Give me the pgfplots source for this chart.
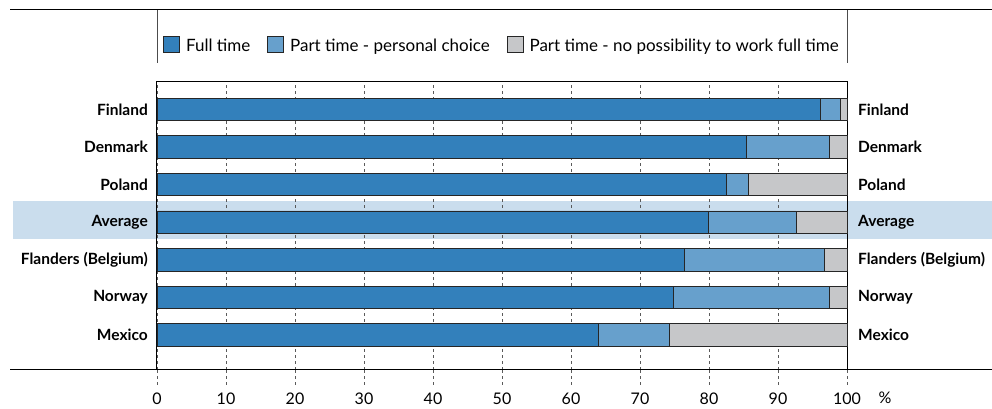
\documentclass[border=0pt]{standalone}
\usepackage{fontspec}
\setmainfont{Lato}
\usepackage{pgfplots}
\pgfplotsset{compat=1.18}
\definecolor{full}{RGB}{51,128,187}
\definecolor{pers}{RGB}{103,160,204}
\definecolor{nopos}{RGB}{198,199,201}
\definecolor{band}{RGB}{202,221,237}
\definecolor{gridc}{RGB}{90,90,90}
\tikzset{lbl/.style={inner sep=0pt, font=\fontsize{15.5}{18}\selectfont\bfseries}}
\begin{document}
\begin{tikzpicture}
\begin{axis}[
  scale only axis, width=690pt, height=287.5pt,
  xmin=0, xmax=100, ymin=-0.92, ymax=6.73,
  hide axis, clip=false,
]
\fill[band] (axis cs:-20.9,2.554) rectangle (axis cs:121,3.565);
\end{axis}
\begin{axis}[
  scale only axis, width=690pt, height=287.5pt,
  xbar stacked, bar width=22.5pt,
  xmin=0, xmax=100, ymin=-0.92, ymax=6.73,
  xtick={0,10,...,100}, ytick=\empty,
  xmajorgrids, grid style={dashed, gridc, line width=0.7pt},
  xtick pos=bottom, tick align=outside, major tick length=15pt,
  tick style={dashed, gridc, line width=0.7pt},
  /pgf/number format/assume math mode=true,
  xticklabel style={font=\fontsize{16}{19}\selectfont, yshift=-5pt},
  axis line style={line width=1pt, black},
  clip=false,
  legend columns=3,
  legend style={draw=none, fill=none, at={(0.5,1.127)}, anchor=center,
    font=\fontsize{17}{20}\selectfont,
    /tikz/every odd column/.append style={column sep=4pt},
    /tikz/every even column/.append style={column sep=15pt}},
  legend image code/.code={\draw[#1, line width=0.8pt] (0pt,-7pt) rectangle (16pt,9pt);},
]
\addplot[fill=full, draw=black!85, line width=0.7pt] coordinates {(64.0,0) (74.8,1) (76.4,2) (79.9,3) (82.5,4) (85.4,5) (96.2,6)};
\addplot[fill=pers, draw=black!85, line width=0.7pt] coordinates {(10.3,0) (22.7,1) (20.3,2) (12.7,3) (3.2,4) (12.0,5) (2.8,6)};
\addplot[fill=nopos, draw=black!85, line width=0.7pt] coordinates {(25.7,0) (2.5,1) (3.3,2) (7.4,3) (14.3,4) (2.6,5) (1.0,6)};
\legend{Full time, Part time - personal choice, Part time - no possibility to work full time}
\node[lbl, anchor=east] at ([xshift=-9pt]axis cs:0,0) {Mexico};
\node[lbl, anchor=east] at ([xshift=-9pt]axis cs:0,1) {Norway};
\node[lbl, anchor=east] at ([xshift=-9pt]axis cs:0,2) {Flanders (Belgium)};
\node[lbl, anchor=east] at ([xshift=-9pt]axis cs:0,3) {Average};
\node[lbl, anchor=east] at ([xshift=-9pt]axis cs:0,4) {Poland};
\node[lbl, anchor=east] at ([xshift=-9pt]axis cs:0,5) {Denmark};
\node[lbl, anchor=east] at ([xshift=-9pt]axis cs:0,6) {Finland};
\node[lbl, anchor=west] at ([xshift=11pt]axis cs:100,0) {Mexico};
\node[lbl, anchor=west] at ([xshift=11pt]axis cs:100,1) {Norway};
\node[lbl, anchor=west] at ([xshift=11pt]axis cs:100,2) {Flanders (Belgium)};
\node[lbl, anchor=west] at ([xshift=11pt]axis cs:100,3) {Average};
\node[lbl, anchor=west] at ([xshift=11pt]axis cs:100,4) {Poland};
\node[lbl, anchor=west] at ([xshift=11pt]axis cs:100,5) {Denmark};
\node[lbl, anchor=west] at ([xshift=11pt]axis cs:100,6) {Finland};
\draw[black, line width=1pt] (axis cs:0,-0.92) -- ++(0,-15.5pt);
\draw[black, line width=1pt] (axis cs:100,-0.92) -- ++(0,-15.5pt);
\draw[black, line width=1.8pt] (axis cs:-21.3,-0.92) -- (axis cs:121,-0.92);
\draw[black, line width=1.8pt] (axis cs:-21.3,8.658) -- (axis cs:121,8.658);
\draw[black!70, line width=0.9pt] (axis cs:0,8.658) -- (axis cs:0,7.235);
\draw[black!70, line width=0.9pt] (axis cs:100,8.658) -- (axis cs:100,7.235);
\node[font=\fontsize{16}{19}\selectfont] at ([xshift=38pt,yshift=-28pt]axis cs:100,-0.92) {\%};
\end{axis}
\pgfresetboundingbox
\path[use as bounding box] ([xshift=-157pt,yshift=-38.5pt]current axis.south west) rectangle ([xshift=145pt,yshift=82pt]current axis.north east);
\end{tikzpicture}
\end{document}
